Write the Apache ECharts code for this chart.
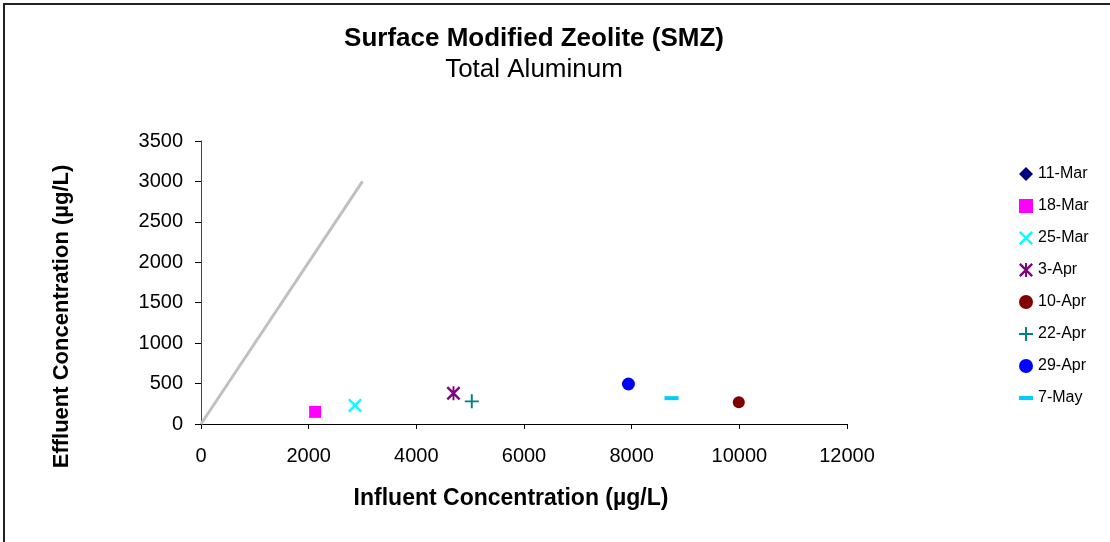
<!DOCTYPE html>
<html>
<head>
<meta charset="utf-8">
<script src="https://cdn.jsdelivr.net/npm/echarts@6/dist/echarts.min.js"></script>
<style>
html,body{margin:0;padding:0;background:#fff;}
#chart{width:1110px;height:542px;}
</style>
</head>
<body>
<div id="chart"></div>
<script>
// ---- data ----
var seriesNames = ['11-Mar','18-Mar','25-Mar','3-Apr','10-Apr','22-Apr','29-Apr','7-May'];
var influent = [null, 2120, 2860, 4690, 9990, 5030, 7940, 8740];
var effluent = [null, 150, 230, 380, 270, 280, 495, 320];
var lineX = [0, 3000];
var lineY = [0, 3000];
var xTicks = [0, 2000, 4000, 6000, 8000, 10000, 12000];
var yTicks = [0, 500, 1000, 1500, 2000, 2500, 3000, 3500];

// ---- styles ----
var FONT = '"Liberation Sans", Arial, sans-serif';
var colors = ['#000080','#FF00FF','#00FFFF','#800080','#800000','#008080','#0000FF','#00CCFF'];
var symX = 'path://M0,1.2 L1.2,0 L10,8.8 L8.8,10 Z M8.8,0 L10,1.2 L1.2,10 L0,8.8 Z';
var symAst = 'path://M0,1.2 L1.2,0 L10,8.8 L8.8,10 Z M8.8,0 L10,1.2 L1.2,10 L0,8.8 Z M4.3,0 L5.7,0 L5.7,10 L4.3,10 Z';
var symPlus = 'path://M4.3,0 L5.7,0 L5.7,10 L4.3,10 Z M0,4.3 L10,4.3 L10,5.7 L0,5.7 Z';
var symDash = 'path://M0,0 L10,0 L10,3 L0,3 Z';
var symbols = ['diamond','rect',symX,symAst,'circle',symPlus,'circle',symDash];
var sizes = [12, 12, 14, 14, 12, 14, 13, [14,4]];

var series = [{
  name: 'line',
  type: 'line',
  data: lineX.map(function(x,i){return [x, lineY[i]];}),
  showSymbol: false,
  symbol: 'none',
  lineStyle: {color: '#C0C0C0', width: 3},
  silent: true,
  z: 1
}];
seriesNames.forEach(function(n, i){
  series.push({
    name: n,
    type: 'scatter',
    data: influent[i] == null ? [] : [[influent[i], effluent[i]]],
    symbol: symbols[i],
    symbolSize: sizes[i],
    itemStyle: {color: colors[i], opacity: 1},
    z: 3
  });
});

function plain(v){ return String(v); }

var chart = echarts.init(document.getElementById('chart'), null, {renderer: 'canvas'});
chart.setOption({
  animation: false,
  backgroundColor: '#fff',
  title: {
    text: 'Surface Modified Zeolite (SMZ)',
    subtext: 'Total Aluminum',
    left: 534, top: 26, textAlign: 'center',
    itemGap: 5, padding: 0,
    textStyle: {fontFamily: FONT, fontSize: 26, fontWeight: 'bold', color: '#000'},
    subtextStyle: {fontFamily: FONT, fontSize: 26, color: '#000'}
  },
  legend: {
    orient: 'vertical',
    left: 1014, top: 161,
    itemGap: 16,
    itemWidth: 14, itemHeight: 14,
    data: seriesNames.map(function(n, i){ return {name: n, icon: symbols[i]}; }),
    textStyle: {fontFamily: FONT, fontSize: 16, color: '#000'}
  },
  grid: {left: 201, right: 263, top: 141, bottom: 118, containLabel: false},
  xAxis: {
    type: 'value', min: 0, max: 12000, interval: 2000,
    name: 'Influent Concentration (\u00b5g/L)',
    nameLocation: 'middle', nameGap: 63,
    nameTextStyle: {fontFamily: FONT, fontSize: 23, fontWeight: 'bold', color: '#000', padding: [0,26,0,0]},
    axisLine: {lineStyle: {color: '#000', width: 1}},
    axisTick: {show: true, length: 5, inside: false, lineStyle: {color: '#000'}},
    axisLabel: {fontFamily: FONT, fontSize: 20, color: '#000', margin: 22, formatter: plain},
    splitLine: {show: false}
  },
  yAxis: {
    type: 'value', min: 0, max: 3500, interval: 500,
    name: 'Effluent Concentration (\u00b5g/L)',
    nameLocation: 'middle', nameGap: 128, nameRotate: 90,
    nameTextStyle: {fontFamily: FONT, fontSize: 22, fontWeight: 'bold', color: '#000', padding: [0,68,0,0]},
    axisLine: {show: true, lineStyle: {color: '#444', width: 1}},
    axisTick: {show: true, length: 6, lineStyle: {color: '#000'}},
    axisLabel: {fontFamily: FONT, fontSize: 20, color: '#000', margin: 18, formatter: plain},
    splitLine: {show: false}
  },
  graphic: [{
    type: 'polyline',
    shape: {points: [[4, 600], [4, 4], [1200, 4]]},
    style: {fill: null, stroke: '#222', lineWidth: 2},
    silent: true
  }],
  series: series
});
</script>
</body>
</html>
